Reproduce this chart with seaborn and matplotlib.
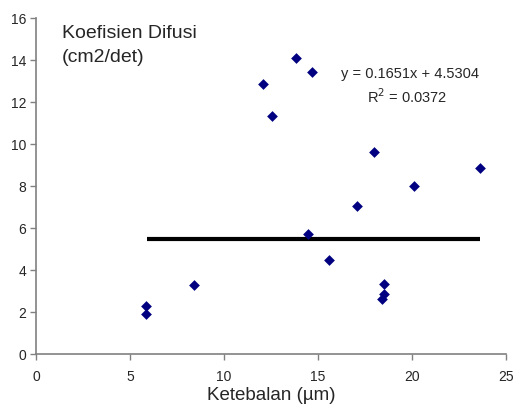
import matplotlib
matplotlib.use("Agg")
import matplotlib.pyplot as plt
import seaborn as sns
import pandas as pd

# Thickness (µm) and diffusion coefficient (cm2/det)
ketebalan = [5.85, 5.85, 8.39, 12.10, 12.54, 13.84, 14.67, 14.49, 15.61,
             17.10, 17.97, 18.38, 18.50, 18.50, 20.08, 23.60]
koefisien = [2.29, 1.89, 3.30, 12.84, 11.33, 14.10, 13.43, 5.71, 4.48,
             7.05, 9.62, 2.63, 2.84, 3.31, 8.00, 8.86]

# Horizontal reference line
garis_x = [5.89, 23.60]
garis_y = [5.49, 5.49]

x_ticks = [0, 5, 10, 15, 20, 25]
y_ticks = [0, 2, 4, 6, 8, 10, 12, 14, 16]

df = pd.DataFrame({"Ketebalan": ketebalan, "Koefisien": koefisien})

sns.set_theme(style="white")
plt.rcParams["font.family"] = ["Liberation Sans", "DejaVu Sans"]

fig = plt.figure(figsize=(5.21, 4.14), dpi=100)
ax = fig.add_axes([36 / 521, 1 - 355 / 414, 470 / 521, 336 / 414])

ax.plot(garis_x, garis_y, color="black", linewidth=3, solid_capstyle="butt", zorder=2)
sns.scatterplot(data=df, x="Ketebalan", y="Koefisien", ax=ax, marker="D",
                color="#000080", edgecolor="#000080", s=30, linewidth=0, zorder=3)

ax.set_xlim(0, 25)
ax.set_ylim(0, 16)
ax.set_xticks(x_ticks)
ax.set_yticks(y_ticks)
ax.tick_params(axis="both", direction="out", length=4, width=1, color="#808080",
               labelsize=10, pad=3, bottom=True, left=True)
ax.tick_params(axis="x", pad=7)
for side in ["top", "right"]:
    ax.spines[side].set_visible(False)
for side in ["left", "bottom"]:
    ax.spines[side].set_color("#808080")
    ax.spines[side].set_linewidth(1.2)

ax.set_xlabel("Ketebalan (µm)", fontsize=13.5, labelpad=2)
ax.set_ylabel("")

ax.text(26 / 470, (355 - 25) / 336, "Koefisien Difusi\n(cm2/det)", transform=ax.transAxes,
        fontsize=14, va="top", ha="left", linespacing=1.55)
ax.text((410 - 36) / 470, (355 - 74) / 336, "y = 0.1651x + 4.5304", transform=ax.transAxes,
        fontsize=10.5, ha="center", va="center")
ax.text((407 - 36) / 470, (355 - 97) / 336, "R$^2$ = 0.0372", transform=ax.transAxes,
        fontsize=10.5, ha="center", va="center")

fig.savefig("out.png", dpi=100)
